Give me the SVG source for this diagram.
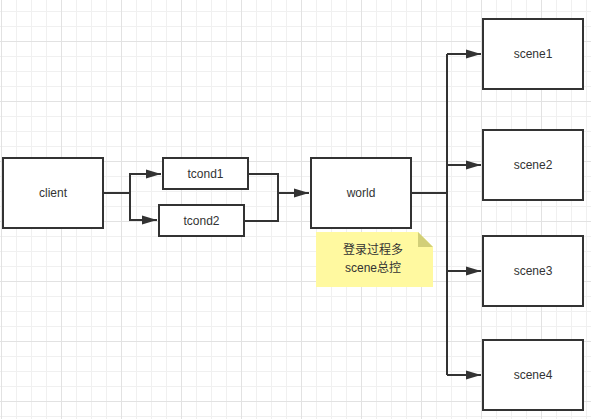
<svg xmlns="http://www.w3.org/2000/svg" width="591" height="419" viewBox="0 0 591 419">
<defs>
<pattern id="minor" width="15" height="15" patternUnits="userSpaceOnUse" x="1" y="11">
<path d="M0.5 0V15M0 0.5H15" stroke="#f0f0f0" stroke-width="1" fill="none"/>
</pattern>
<pattern id="major" width="60" height="60" patternUnits="userSpaceOnUse" x="1" y="41">
<path d="M0.5 0V60M0 0.5H60" stroke="#e2e2e2" stroke-width="1" fill="none"/>
</pattern>
<marker id="arr" markerWidth="16" markerHeight="10" refX="15" refY="5" orient="auto" markerUnits="userSpaceOnUse">
<path d="M0 0.5L15 5L0 9.5Z" fill="#333"/>
</marker>
</defs>
<style>
.box{fill:#fff;stroke:#333;stroke-width:2}
.lbl{font-family:"Liberation Sans","Noto Sans CJK SC",sans-serif;font-size:12px;fill:#333;text-anchor:middle;dominant-baseline:central}
.ln{fill:none;stroke:#333;stroke-width:2}
</style>
<rect width="591" height="419" fill="#fff"/>
<rect width="591" height="419" fill="url(#minor)"/>
<rect width="591" height="419" fill="url(#major)"/>
<g id="connectors">
<path class="ln" d="M103 193H130V174H161" marker-end="url(#arr)"/>
<path class="ln" d="M130 193V220H157" marker-end="url(#arr)"/>
<path class="ln" d="M248 174H278V193H309" marker-end="url(#arr)"/>
<path class="ln" d="M244 221H278V193"/>
<path class="ln" d="M411 193H447"/>
<path class="ln" d="M447 54V375"/>
<path class="ln" d="M447 54H481" marker-end="url(#arr)"/>
<path class="ln" d="M447 165H481" marker-end="url(#arr)"/>
<path class="ln" d="M447 271H481" marker-end="url(#arr)"/>
<path class="ln" d="M447 375H481" marker-end="url(#arr)"/>
</g>
<g id="client"><rect class="box" x="3" y="158" width="100" height="70"/><text class="lbl" x="53" y="193">client</text></g>
<g id="tcond1"><rect class="box" x="163" y="158" width="85" height="31"/><text class="lbl" x="205.5" y="173.5">tcond1</text></g>
<g id="tcond2"><rect class="box" x="159" y="205" width="85" height="31"/><text class="lbl" x="201.5" y="220.5">tcond2</text></g>
<g id="world"><rect class="box" x="311" y="158" width="100" height="70"/><text class="lbl" x="361" y="193">world</text></g>
<g id="note">
<path d="M316 232H418L433 247V287H316Z" fill="#fff9a0"/>
<path d="M418 232L433 247H418Z" fill="#d2cf78"/>
<text class="lbl" x="373" y="250">登录过程多</text>
<text class="lbl" x="373" y="268">scene总控</text>
</g>
<g id="scene1"><rect class="box" x="483" y="19" width="100" height="70"/><text class="lbl" x="533" y="54">scene1</text></g>
<g id="scene2"><rect class="box" x="483" y="130" width="100" height="70"/><text class="lbl" x="533" y="165">scene2</text></g>
<g id="scene3"><rect class="box" x="483" y="236" width="100" height="70"/><text class="lbl" x="533" y="271">scene3</text></g>
<g id="scene4"><rect class="box" x="483" y="340" width="100" height="70"/><text class="lbl" x="533" y="375">scene4</text></g>
</svg>
